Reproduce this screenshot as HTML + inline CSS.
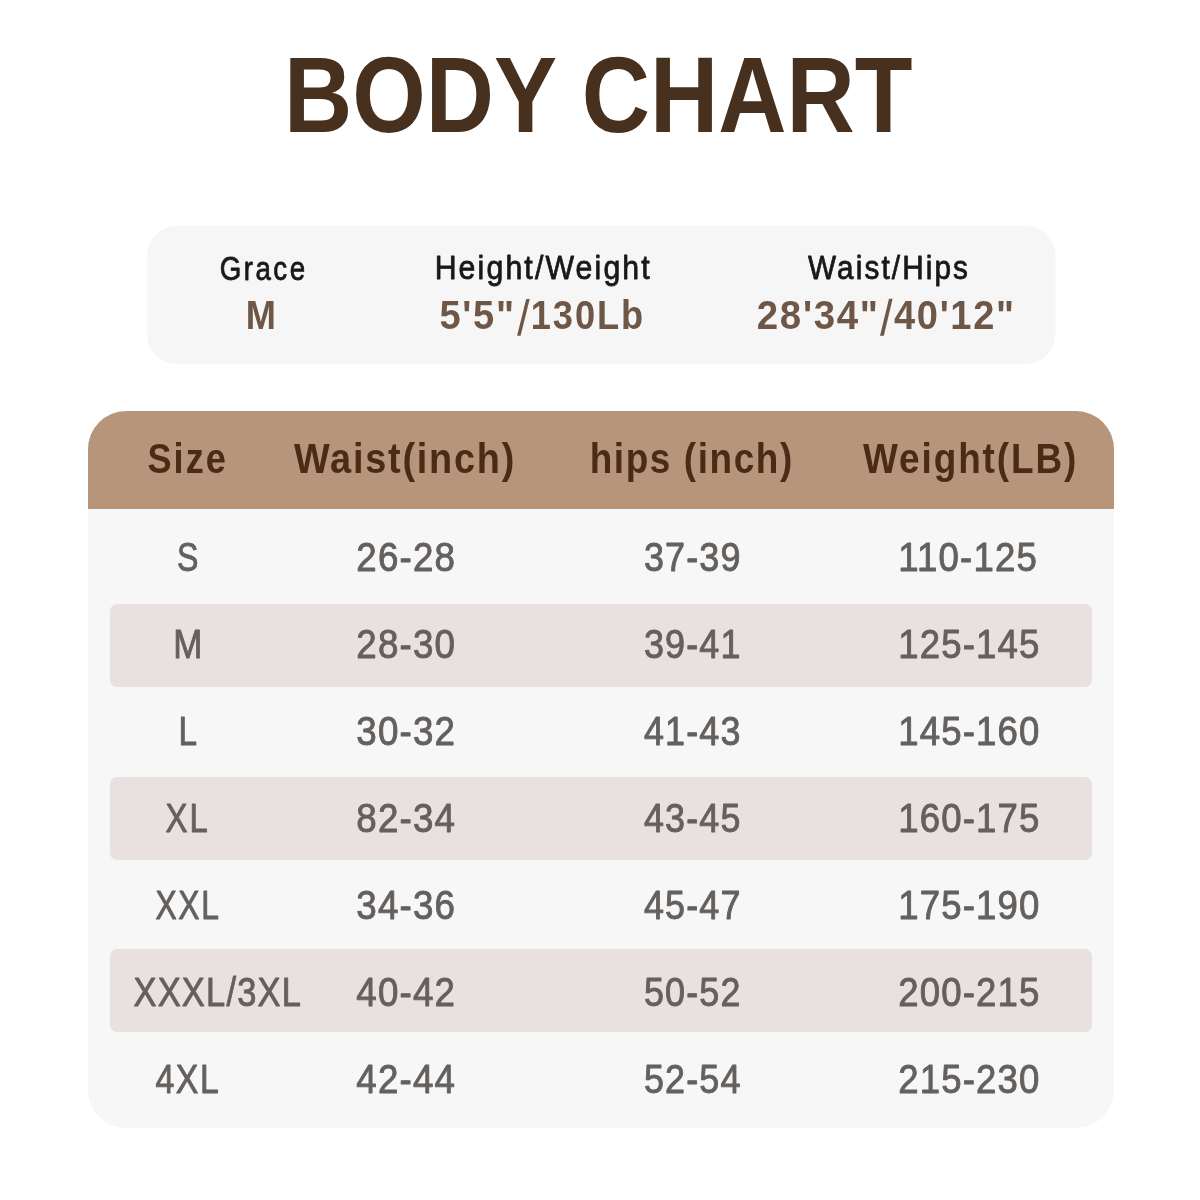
<!DOCTYPE html>
<html><head><meta charset="utf-8"><title>Body Chart</title>
<style>
html,body{margin:0;padding:0;background:#fff;}
body{width:1200px;height:1200px;overflow:hidden;}
svg{display:block;will-change:transform;font-family:"Liberation Sans",sans-serif;}
</style></head><body>
<svg width="1200" height="1200" viewBox="0 0 1200 1200">
<rect width="1200" height="1200" fill="#ffffff"/>
<rect x="147" y="226" width="908.5" height="138" rx="30" fill="#f6f6f6"/>
<rect x="88" y="411" width="1026" height="717" rx="38" fill="#f7f7f7"/>
<path d="M88,509 V449 A38,38 0 0 1 126,411 H1076 A38,38 0 0 1 1114,449 V509 Z" fill="#b6957a"/>
<rect x="110" y="604" width="982" height="83" rx="7" fill="#e9e1df"/>
<rect x="110" y="777" width="982" height="83" rx="7" fill="#e9e1df"/>
<rect x="110" y="949" width="982" height="83" rx="7" fill="#e9e1df"/>
<polygon points="526.2,299 529.7,299 520.6,335.8 517.1,335.8" fill="#6e5746"/>
<polygon points="889,298.8 892.6,298.8 883.8,335.8 880,335.8" fill="#6e5746"/>
<text transform="translate(284.09,132.00) scale(0.8787,1)" font-size="107.56" font-weight="bold" fill="#48301e">BODY CHART</text>
<text transform="translate(219.70,279.50) scale(0.8291,1)" font-size="33.43" font-weight="normal" fill="#181818" stroke="#181818" stroke-width="0.8" stroke-linejoin="round" letter-spacing="3.00">Grace</text>
<text transform="translate(434.63,279.30) scale(0.9061,1)" font-size="33.43" font-weight="normal" fill="#181818" stroke="#181818" stroke-width="0.8" stroke-linejoin="round" letter-spacing="2.35">Height/Weight</text>
<text transform="translate(808.00,278.80) scale(0.8887,1)" font-size="33.43" font-weight="normal" fill="#181818" stroke="#181818" stroke-width="0.8" stroke-linejoin="round" letter-spacing="2.39">Waist/Hips</text>
<text transform="translate(245.74,329.00) scale(0.8902,1)" font-size="40.70" font-weight="bold" fill="#6e5746">M</text>
<text transform="translate(439.40,328.50) scale(0.9541,1)" font-size="39.97" font-weight="bold" fill="#6e5746" letter-spacing="1.76">5'5&quot;</text>
<text transform="translate(530.73,328.50) scale(0.9075,1)" font-size="39.97" font-weight="bold" fill="#6e5746" letter-spacing="2.10">130Lb</text>
<text transform="translate(756.80,328.50) scale(0.9624,1)" font-size="39.97" font-weight="bold" fill="#6e5746" letter-spacing="1.72">28'34&quot;</text>
<text transform="translate(894.00,328.50) scale(0.9519,1)" font-size="39.97" font-weight="bold" fill="#6e5746" letter-spacing="1.74">40'12&quot;</text>
<text transform="translate(147.44,473.00) scale(0.8428,1)" font-size="42.88" font-weight="bold" fill="#4a2c16" letter-spacing="2.44">Size</text>
<text transform="translate(294.00,473.00) scale(0.8840,1)" font-size="42.88" font-weight="bold" fill="#4a2c16" letter-spacing="1.98">Waist(inch)</text>
<text transform="translate(589.69,473.00) scale(0.8614,1)" font-size="42.88" font-weight="bold" fill="#4a2c16" letter-spacing="1.85">hips (inch)</text>
<text transform="translate(863.00,473.00) scale(0.8619,1)" font-size="42.88" font-weight="bold" fill="#4a2c16" letter-spacing="2.19">Weight(LB)</text>
<text transform="translate(177.00,570.80) scale(0.8061,1)" font-size="39.83" font-weight="normal" fill="#64605e" stroke="#64605e" stroke-width="0.9" stroke-linejoin="round">S</text>
<text transform="translate(173.27,657.80) scale(0.8779,1)" font-size="39.83" font-weight="normal" fill="#64605e" stroke="#64605e" stroke-width="0.9" stroke-linejoin="round">M</text>
<text transform="translate(178.39,744.80) scale(0.8393,1)" font-size="39.83" font-weight="normal" fill="#64605e" stroke="#64605e" stroke-width="0.9" stroke-linejoin="round">L</text>
<text transform="translate(165.49,831.80) scale(0.8276,1)" font-size="39.83" font-weight="normal" fill="#64605e" stroke="#64605e" stroke-width="0.9" stroke-linejoin="round" letter-spacing="2.48">XL</text>
<text transform="translate(155.50,918.80) scale(0.8006,1)" font-size="39.83" font-weight="normal" fill="#64605e" stroke="#64605e" stroke-width="0.9" stroke-linejoin="round" letter-spacing="1.94">XXL</text>
<text transform="translate(133.46,1005.80) scale(0.8658,1)" font-size="39.83" font-weight="normal" fill="#64605e" stroke="#64605e" stroke-width="0.9" stroke-linejoin="round" letter-spacing="1.37">XXXL/3XL</text>
<text transform="translate(155.47,1092.80) scale(0.8508,1)" font-size="39.83" font-weight="normal" fill="#64605e" stroke="#64605e" stroke-width="0.9" stroke-linejoin="round" letter-spacing="1.82">4XL</text>
<text transform="translate(356.28,570.80) scale(0.9225,1)" font-size="39.83" font-weight="normal" fill="#64605e" stroke="#64605e" stroke-width="0.9" stroke-linejoin="round" letter-spacing="1.29">26-28</text>
<text transform="translate(356.28,657.80) scale(0.9225,1)" font-size="39.83" font-weight="normal" fill="#64605e" stroke="#64605e" stroke-width="0.9" stroke-linejoin="round" letter-spacing="1.29">28-30</text>
<text transform="translate(356.28,744.80) scale(0.9225,1)" font-size="39.83" font-weight="normal" fill="#64605e" stroke="#64605e" stroke-width="0.9" stroke-linejoin="round" letter-spacing="1.29">30-32</text>
<text transform="translate(356.28,831.80) scale(0.9225,1)" font-size="39.83" font-weight="normal" fill="#64605e" stroke="#64605e" stroke-width="0.9" stroke-linejoin="round" letter-spacing="1.29">82-34</text>
<text transform="translate(356.28,918.80) scale(0.9225,1)" font-size="39.83" font-weight="normal" fill="#64605e" stroke="#64605e" stroke-width="0.9" stroke-linejoin="round" letter-spacing="1.29">34-36</text>
<text transform="translate(356.28,1005.80) scale(0.9225,1)" font-size="39.83" font-weight="normal" fill="#64605e" stroke="#64605e" stroke-width="0.9" stroke-linejoin="round" letter-spacing="1.29">40-42</text>
<text transform="translate(356.28,1092.80) scale(0.9225,1)" font-size="39.83" font-weight="normal" fill="#64605e" stroke="#64605e" stroke-width="0.9" stroke-linejoin="round" letter-spacing="1.29">42-44</text>
<text transform="translate(643.88,570.80) scale(0.9029,1)" font-size="39.83" font-weight="normal" fill="#64605e" stroke="#64605e" stroke-width="0.9" stroke-linejoin="round" letter-spacing="1.30">37-39</text>
<text transform="translate(643.88,657.80) scale(0.9029,1)" font-size="39.83" font-weight="normal" fill="#64605e" stroke="#64605e" stroke-width="0.9" stroke-linejoin="round" letter-spacing="1.30">39-41</text>
<text transform="translate(643.88,744.80) scale(0.9029,1)" font-size="39.83" font-weight="normal" fill="#64605e" stroke="#64605e" stroke-width="0.9" stroke-linejoin="round" letter-spacing="1.30">41-43</text>
<text transform="translate(643.88,831.80) scale(0.9029,1)" font-size="39.83" font-weight="normal" fill="#64605e" stroke="#64605e" stroke-width="0.9" stroke-linejoin="round" letter-spacing="1.30">43-45</text>
<text transform="translate(643.88,918.80) scale(0.9029,1)" font-size="39.83" font-weight="normal" fill="#64605e" stroke="#64605e" stroke-width="0.9" stroke-linejoin="round" letter-spacing="1.30">45-47</text>
<text transform="translate(643.88,1005.80) scale(0.9029,1)" font-size="39.83" font-weight="normal" fill="#64605e" stroke="#64605e" stroke-width="0.9" stroke-linejoin="round" letter-spacing="1.30">50-52</text>
<text transform="translate(643.88,1092.80) scale(0.9029,1)" font-size="39.83" font-weight="normal" fill="#64605e" stroke="#64605e" stroke-width="0.9" stroke-linejoin="round" letter-spacing="1.30">52-54</text>
<text transform="translate(898.28,570.80) scale(0.9189,1)" font-size="39.83" font-weight="normal" fill="#64605e" stroke="#64605e" stroke-width="0.9" stroke-linejoin="round" letter-spacing="1.25">110-125</text>
<text transform="translate(898.28,657.80) scale(0.9189,1)" font-size="39.83" font-weight="normal" fill="#64605e" stroke="#64605e" stroke-width="0.9" stroke-linejoin="round" letter-spacing="1.25">125-145</text>
<text transform="translate(898.28,744.80) scale(0.9189,1)" font-size="39.83" font-weight="normal" fill="#64605e" stroke="#64605e" stroke-width="0.9" stroke-linejoin="round" letter-spacing="1.25">145-160</text>
<text transform="translate(898.28,831.80) scale(0.9189,1)" font-size="39.83" font-weight="normal" fill="#64605e" stroke="#64605e" stroke-width="0.9" stroke-linejoin="round" letter-spacing="1.25">160-175</text>
<text transform="translate(898.28,918.80) scale(0.9189,1)" font-size="39.83" font-weight="normal" fill="#64605e" stroke="#64605e" stroke-width="0.9" stroke-linejoin="round" letter-spacing="1.25">175-190</text>
<text transform="translate(898.28,1005.80) scale(0.9189,1)" font-size="39.83" font-weight="normal" fill="#64605e" stroke="#64605e" stroke-width="0.9" stroke-linejoin="round" letter-spacing="1.25">200-215</text>
<text transform="translate(898.28,1092.80) scale(0.9189,1)" font-size="39.83" font-weight="normal" fill="#64605e" stroke="#64605e" stroke-width="0.9" stroke-linejoin="round" letter-spacing="1.25">215-230</text>
</svg>
</body></html>
